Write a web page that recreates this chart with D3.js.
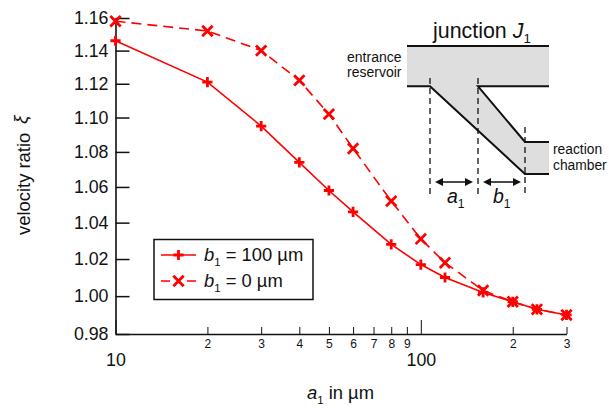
<!DOCTYPE html>
<html>
<head>
<meta charset="utf-8">
<script src="https://cdnjs.cloudflare.com/ajax/libs/d3/7.8.5/d3.min.js"></script>
<style>
html, body { margin: 0; padding: 0; background: #fff; }
svg { display: block; }
text { font-family: "Liberation Sans", Arial, sans-serif; fill: #111; }
</style>
</head>
<body>
<script>
var xValues = [10, 20, 30, 40, 50, 60, 80, 100, 120, 160, 200, 240, 300];
var ratio100 = [1.146, 1.121, 1.095, 1.074, 1.058, 1.046, 1.028, 1.017, 1.010, 1.002, 0.997, 0.993, 0.990];
var ratio0 = [1.158, 1.152, 1.140, 1.122, 1.102, 1.082, 1.052, 1.031, 1.018, 1.003, 0.997, 0.993, 0.990];
var yTicks = [0.98, 1.00, 1.02, 1.04, 1.06, 1.08, 1.10, 1.12, 1.14, 1.16];
var xMinorTicks = [20, 30, 40, 50, 60, 70, 80, 90, 200, 300];
var xMinorLabels = ["2", "3", "4", "5", "6", "7", "8", "9", "2", "3"];
var xMajorTicks = [10, 100];

var red = "#ff0000";

var viewport = d3.select("body").append("svg")
	.attr("width", 609)
	.attr("height", 408);

var x = d3.scaleLog().domain([10, 300]).range([115.5, 566.5]);
var y = d3.scaleLog().domain([0.98, 1.16]).range([334, 18]);

// inset schematic goes under everything else
var inset = viewport.append("g");

inset.append("path")
	.attr("d", "M407,46H549V86.3H478L525,142H549V174H525L430,86.3H407Z")
	.attr("fill", "#dedede");

function blackLine(d, width, dash) {
	return inset.append("path")
		.attr("d", d)
		.attr("fill", "none")
		.attr("stroke", "#111")
		.attr("stroke-width", width)
		.attr("stroke-dasharray", dash || null);
}

blackLine("M407,46H549", 2);
blackLine("M407,86.3H430L525,174H549", 2);
blackLine("M549,86.3H478L525,142H549", 2);
blackLine("M430,78V195", 1.3, "6 4");
blackLine("M478,78V195", 1.3, "6 4");
blackLine("M525,127V197", 1.3, "6 4");
blackLine("M439,182H469", 1.5);
blackLine("M487,182H517", 1.5);

inset.append("path")
	.attr("d", "M435,182l8,-4v8ZM473,182l-8,-4v8ZM483,182l8,-4v8ZM521,182l-8,-4v8Z")
	.attr("fill", "#111");

function subLabel(parent, px, py, size, before, letter, after) {
	var t = parent.append("text")
		.attr("x", px)
		.attr("y", py)
		.attr("font-size", size);
	if (before) t.append("tspan").text(before);
	t.append("tspan").attr("font-style", "italic").text(letter);
	t.append("tspan").attr("font-size", size * 0.62).attr("dy", size * 0.25).text("1");
	if (after) t.append("tspan").attr("dy", -size * 0.25).text(after);
	return t;
}

subLabel(inset, 433, 38, 21.4, "junction ", "J");
subLabel(inset, 447, 203, 19.5, null, "a");
subLabel(inset, 493, 203, 19.5, null, "b");

inset.append("text").attr("x", 401.5).attr("y", 62).attr("text-anchor", "end").attr("font-size", 14).text("entrance");
inset.append("text").attr("x", 401.5).attr("y", 77).attr("text-anchor", "end").attr("font-size", 14).text("reservoir");
inset.append("text").attr("x", 553).attr("y", 154).attr("font-size", 13.8).text("reaction");
inset.append("text").attr("x", 553).attr("y", 170).attr("font-size", 13.8).text("chamber");

// axes
var yAxis = viewport.append("g")
	.attr("transform", "translate(115.5,0)")
	.call(d3.axisLeft(y)
		.tickValues(yTicks)
		.tickSize(-14)
		.tickSizeOuter(0)
		.tickPadding(7)
		.tickFormat(d3.format(".2f")));

yAxis.selectAll("text").attr("font-size", 17.8).attr("fill", "#111").attr("font-family", "Liberation Sans");
yAxis.selectAll("line").attr("stroke", "#111").attr("stroke-width", 1.5);
yAxis.select(".domain").attr("stroke", "#111").attr("stroke-width", 1.6);

var xAxisMinor = viewport.append("g")
	.attr("transform", "translate(0,334)")
	.call(d3.axisBottom(x)
		.tickValues(xMinorTicks)
		.tickSize(-7)
		.tickSizeOuter(0)
		.tickPadding(5)
		.tickFormat(function(d, i) { return xMinorLabels[i]; }));

xAxisMinor.selectAll("text").attr("font-size", 12).attr("fill", "#333").attr("font-family", "Liberation Sans");
xAxisMinor.selectAll("line").attr("stroke", "#111").attr("stroke-width", 1);
xAxisMinor.select(".domain").attr("stroke", "#111").attr("stroke-width", 1.3);

var xAxisMajor = viewport.append("g")
	.attr("transform", "translate(0,334)")
	.call(d3.axisBottom(x)
		.tickValues(xMajorTicks)
		.tickSize(-14)
		.tickSizeOuter(0)
		.tickPadding(19)
		.tickFormat(d3.format("d")));

xAxisMajor.select(".domain").remove();
xAxisMajor.selectAll("text").attr("font-size", 17.8).attr("fill", "#111").attr("font-family", "Liberation Sans");
xAxisMajor.selectAll("line").attr("stroke", "#111").attr("stroke-width", 1);

// axis titles
viewport.append("text")
	.attr("transform", "translate(30,235) rotate(-90)")
	.attr("font-size", 18.4)
	.text("velocity ratio");

viewport.append("text")
	.attr("transform", "translate(27,124) rotate(-90)")
	.attr("font-size", 19)
	.attr("font-style", "italic")
	.attr("font-family", "Liberation Serif")
	.attr("fill", "#333")
	.text("ξ");

subLabel(viewport, 307, 399, 18.4, null, "a", null).append("tspan").attr("dy", -4.6).text(" in µm");

// series
var pathDraw = d3.line()
	.x(function(d) { return x(d.x); })
	.y(function(d) { return y(d.y); });

function pairs(values) {
	return xValues.map(function(v, i) { return { x: v, y: values[i] }; });
}

var plusMark = d3.symbol().type(d3.symbolPlus).size(36);
var crossMark = d3.symbol().type(d3.symbolX).size(72);

function drawSeries(values, dash, mark) {
	var g = viewport.append("g");
	g.append("path")
		.attr("d", pathDraw(pairs(values)))
		.attr("fill", "none")
		.attr("stroke", red)
		.attr("stroke-width", 1.6)
		.attr("stroke-dasharray", dash);
	g.selectAll("path.mark")
		.data(pairs(values))
		.enter()
		.append("path")
		.attr("class", "mark")
		.attr("d", mark)
		.attr("transform", function(d) { return "translate(" + x(d.x) + "," + y(d.y) + ")"; })
		.attr("fill", "none")
		.attr("stroke", red)
		.attr("stroke-width", 2.8);
}

drawSeries(ratio100, null, plusMark);
drawSeries(ratio0, "10 6", crossMark);

// legend
var legend = viewport.append("g");

legend.append("rect")
	.attr("x", 154)
	.attr("y", 239.5)
	.attr("width", 159)
	.attr("height", 60)
	.attr("fill", "#fff")
	.attr("stroke", "#111")
	.attr("stroke-width", 1.5);

function legendRow(py, dash, mark, label) {
	legend.append("path")
		.attr("d", "M161," + py + "H196")
		.attr("stroke", red)
		.attr("stroke-width", 1.6)
		.attr("stroke-dasharray", dash);
	legend.append("path")
		.attr("d", mark)
		.attr("transform", "translate(178.5," + py + ")")
		.attr("fill", "none")
		.attr("stroke", red)
		.attr("stroke-width", 2.8);
	subLabel(legend, 204, py + 6, 18.4, null, "b", label);
}

legendRow(255, null, plusMark, " = 100 µm");
legendRow(281, "9 17", crossMark, " = 0 µm");
</script>
</body>
</html>
